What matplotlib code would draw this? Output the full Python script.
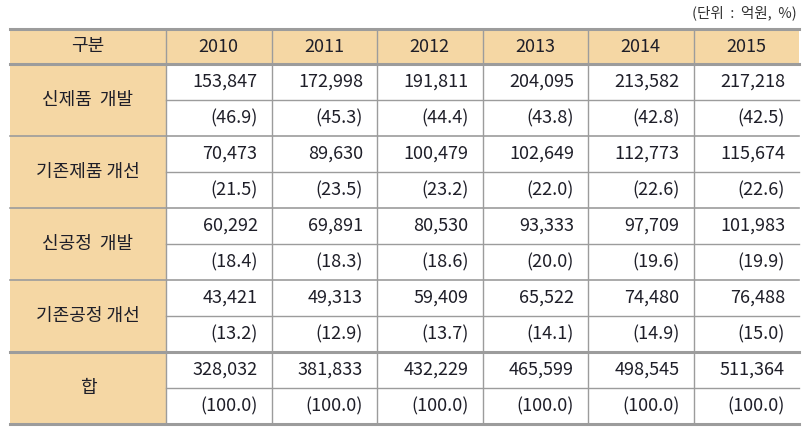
import matplotlib
matplotlib.use('Agg')
import matplotlib.pyplot as plt
from matplotlib.patches import Rectangle

plt.rcParams['font.family'] = ['Noto Sans CJK KR', 'DejaVu Sans']

years = ['2010', '2011', '2012', '2013', '2014', '2015']
categories = ['신제품  개발', '기존제품 개선', '신공정  개발', '기존공정 개선', '합']
amounts = [
    [153847, 172998, 191811, 204095, 213582, 217218],
    [70473, 89630, 100479, 102649, 112773, 115674],
    [60292, 69891, 80530, 93333, 97709, 101983],
    [43421, 49313, 59409, 65522, 74480, 76488],
    [328032, 381833, 432229, 465599, 498545, 511364],
]
shares = [
    [46.9, 45.3, 44.4, 43.8, 42.8, 42.5],
    [21.5, 23.5, 23.2, 22.0, 22.6, 22.6],
    [18.4, 18.3, 18.6, 20.0, 19.6, 19.9],
    [13.2, 12.9, 13.7, 14.1, 14.9, 15.0],
    [100.0, 100.0, 100.0, 100.0, 100.0, 100.0],
]
header_label = '구분'
unit_note = '(단위  :  억원,  %)'


def main():
    fig = plt.figure(figsize=(8.1, 4.44), dpi=100)
    ax = fig.add_axes([0, 0, 1, 1])
    ax.set_xlim(0, 810)
    ax.set_ylim(444, 0)
    ax.axis('off')

    fill = '#f5d7a4'
    line = '#9c9c9c'
    txt = '#1e1e28'

    left, right = 10, 799
    label_w = 156
    top, head_h, sub_h = 29, 35, 36
    col_w = (right - left - label_w) / len(years)
    col_edges = [left + label_w + i * col_w for i in range(len(years) + 1)]
    bottom = top + head_h + 2 * sub_h * len(categories)

    # shaded header row and label column
    ax.add_patch(Rectangle((left, top), right - left, head_h, color=fill, lw=0))
    ax.add_patch(Rectangle((left, top + head_h), label_w, bottom - top - head_h,
                           color=fill, lw=0))

    # header text
    ax.text(left + label_w / 2, top + head_h / 2, header_label, ha='center',
            va='center', fontsize=13, color=txt)
    for j, y in enumerate(years):
        ax.text((col_edges[j] + col_edges[j + 1]) / 2, top + head_h / 2, y,
                ha='center', va='center', fontsize=13, color=txt)

    # body
    for i, cat in enumerate(categories):
        y0 = top + head_h + 2 * sub_h * i
        ax.text(left + label_w / 2, y0 + sub_h, cat, ha='center', va='center',
                fontsize=13, color=txt)
        for j in range(len(years)):
            xr = col_edges[j + 1] - 14
            ax.text(xr, y0 + sub_h / 2, f'{amounts[i][j]:,}', ha='right',
                    va='center', fontsize=13, color=txt)
            ax.text(xr, y0 + 1.5 * sub_h, f'({shares[i][j]:.1f})', ha='right',
                    va='center', fontsize=13, color=txt)
        # thin line between amount and share rows
        ax.plot([left + label_w, right], [y0 + sub_h] * 2, color=line, lw=1)
        if i > 0:
            lw = 2.2 if i == len(categories) - 1 else 1.2
            ax.plot([left, right], [y0, y0], color=line, lw=lw)

    # vertical lines
    for x in col_edges[:-1]:
        ax.plot([x, x], [top, bottom], color=line, lw=1)

    # heavy rules
    ax.plot([left, right], [top, top], color=line, lw=2.2)
    ax.plot([left, right], [top + head_h, top + head_h], color=line, lw=2.2)
    ax.plot([left, right], [bottom, bottom], color=line, lw=2.2)

    ax.text(right - 2, 13, unit_note, ha='right', va='center', fontsize=10.5,
            color='#333333')

    fig.savefig('out.png', dpi=100)


if __name__ == '__main__':
    main()
